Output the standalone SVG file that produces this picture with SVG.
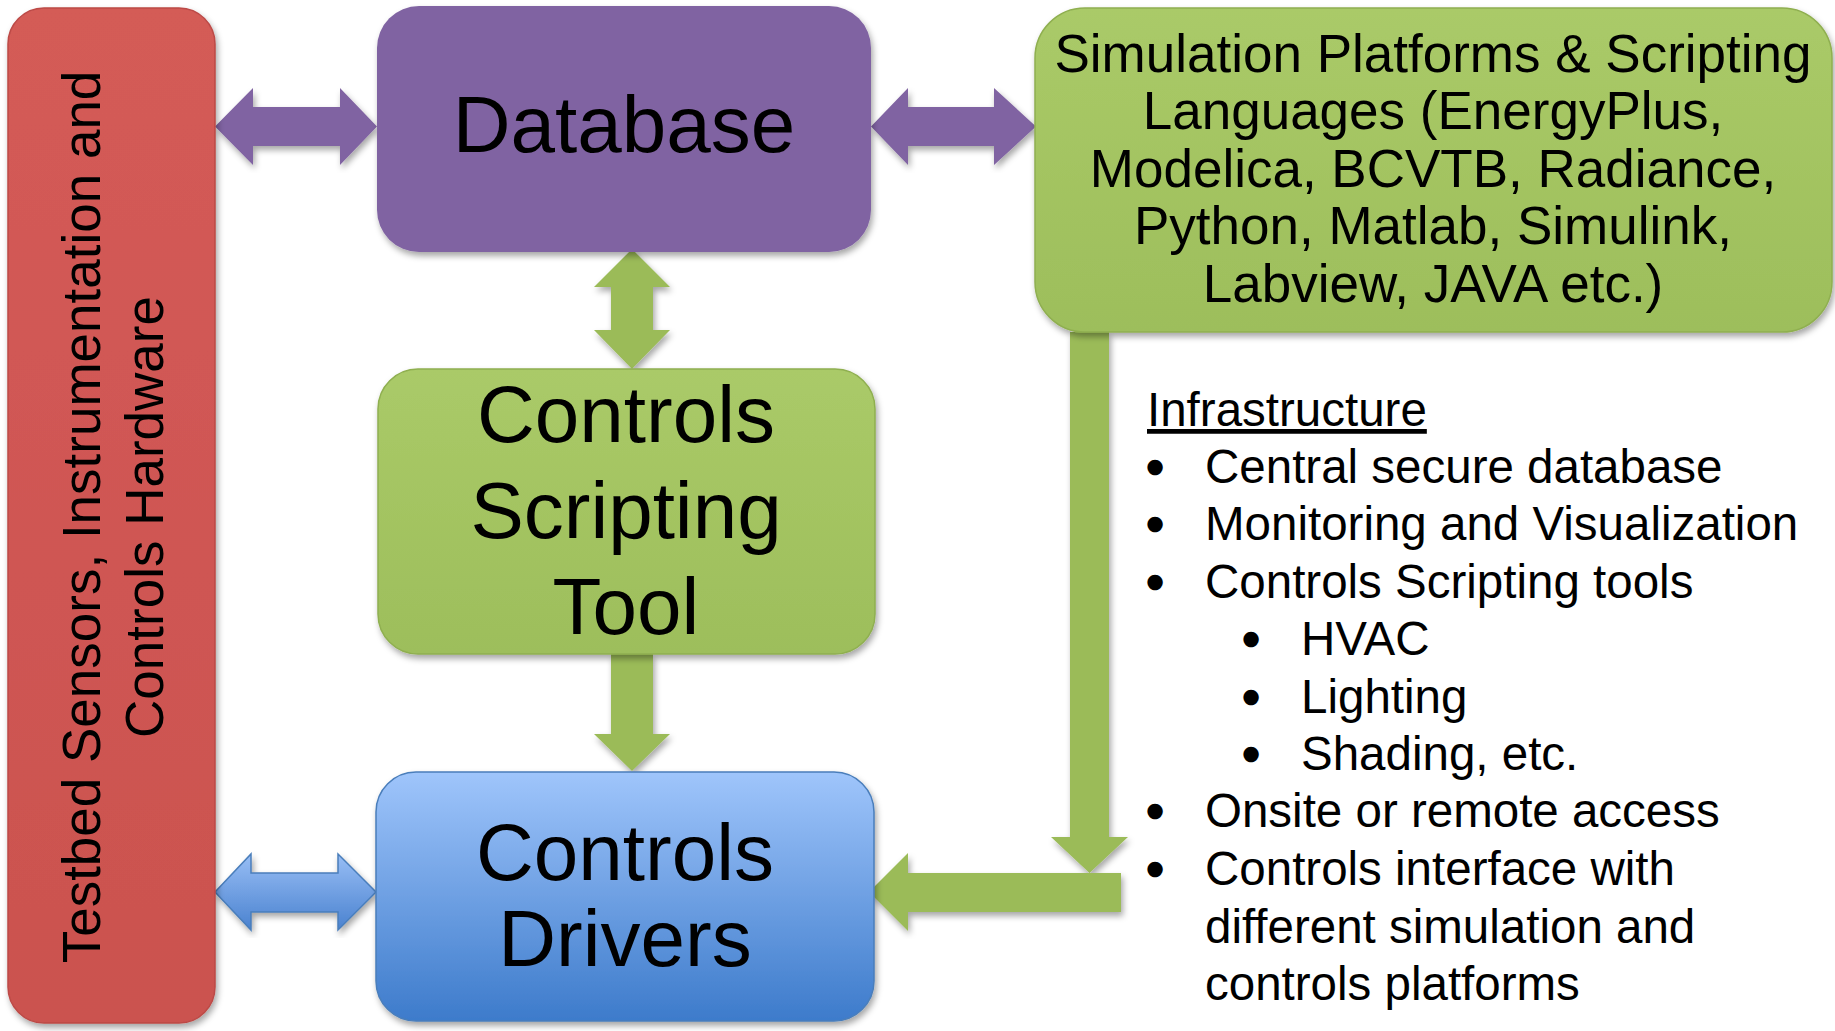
<svg xmlns="http://www.w3.org/2000/svg" width="1835" height="1031" viewBox="0 0 1835 1031">
  <defs>
    <filter id="shadow" x="-10%" y="-10%" width="120%" height="120%">
      <feDropShadow dx="2" dy="4" stdDeviation="3" flood-color="#000" flood-opacity="0.35"/>
    </filter>
    <linearGradient id="gGreen" x1="0" y1="0" x2="0" y2="1">
      <stop offset="0" stop-color="#AACA68"/>
      <stop offset="1" stop-color="#9DBE5B"/>
    </linearGradient>
    <linearGradient id="gBlue" x1="0" y1="0" x2="0" y2="1">
      <stop offset="0" stop-color="#9FC5FB"/>
      <stop offset="1" stop-color="#3D7BCB"/>
    </linearGradient>
    <linearGradient id="gBlueArrow" x1="0" y1="0" x2="0" y2="1">
      <stop offset="0" stop-color="#98BEF5"/>
      <stop offset="1" stop-color="#4A82CF"/>
    </linearGradient>
    <linearGradient id="gRed" x1="0" y1="0" x2="0" y2="1">
      <stop offset="0" stop-color="#D45B57"/>
      <stop offset="1" stop-color="#CB524F"/>
    </linearGradient>
  </defs>
  <style>
    text { font-family: "Liberation Sans", Arial, sans-serif; fill: #000; }
    .big { font-size: 80px; text-anchor: middle; }
    .mid { font-size: 53px; text-anchor: middle; }
    .list { font-size: 47.5px; }
    .bul { font-size: 47.5px; text-anchor: middle; stroke: #000; stroke-width: 2.5; }
    .box { filter: url(#shadow); }
    .arrowGreen { fill: #9BBB59; filter: url(#shadow); }
    .arrowPurple { fill: #8064A2; filter: url(#shadow); }
    .arrowBlue { fill: url(#gBlueArrow); stroke: #4A7EBB; stroke-width: 1.5; filter: url(#shadow); }
  </style>

  <rect width="1835" height="1031" fill="#FFFFFF"/>

  <!-- connectors -->
  <g id="connectors">
    <!-- sensors <-> database -->
    <path class="arrowPurple" d="M215,126.5 L253,88 L253,107 L340,107 L340,88 L377,126.5 L340,165 L340,146 L253,146 L253,165 Z"/>
    <!-- database <-> simulation platforms -->
    <path class="arrowPurple" d="M871,126.5 L908,88 L908,107 L994,107 L994,88 L1036,126.5 L994,165 L994,146 L908,146 L908,165 Z"/>
    <!-- database <-> scripting tool -->
    <path class="arrowGreen" d="M632,249 L670,287 L653,287 L653,330 L670,330 L632,369 L594,330 L611,330 L611,287 L594,287 Z"/>
    <!-- scripting tool -> drivers -->
    <path class="arrowGreen" d="M611,654 L653,654 L653,734 L670,734 L632,771 L594,734 L611,734 Z"/>
    <!-- sensors <-> drivers -->
    <path class="arrowBlue" d="M215,892 L251,854 L251,873 L338,873 L338,854 L376,892 L338,930 L338,912 L251,912 L251,930 Z"/>
    <!-- simulation platforms -> drivers (elbow) -->
    <path class="arrowGreen" d="M1070,332 L1109,332 L1109,837 L1128,837 L1089.5,873 L1051,837 L1070,837 Z"/>
    <path class="arrowGreen" d="M1121,873 L1121,912 L908,912 L908,931 L869,892 L908,853 L908,873 Z"/>
  </g>

  <!-- testbed sensors / hardware column -->
  <g id="sensors">
    <rect class="box" x="8" y="8" width="207" height="1015" rx="36" fill="url(#gRed)" stroke="#BC4A46" stroke-width="1.5"/>
    <text class="mid" transform="translate(100,517) rotate(-90)">Testbed Sensors, Instrumentation and</text>
    <text class="mid" transform="translate(163,517) rotate(-90)">Controls Hardware</text>
  </g>

  <!-- database -->
  <g id="database">
    <rect class="box" x="377" y="6" width="494" height="246" rx="42" fill="#8064A2"/>
    <text class="big" x="624" y="152">Database</text>
  </g>

  <!-- simulation platforms -->
  <g id="simulation">
    <rect class="box" x="1035" y="8" width="797" height="324" rx="50" fill="url(#gGreen)" stroke="#8FAF50" stroke-width="1.5"/>
    <text class="mid" x="1433" y="71.5">Simulation Platforms &amp; Scripting</text>
    <text class="mid" x="1433" y="129">Languages (EnergyPlus,</text>
    <text class="mid" x="1433" y="186.5">Modelica, BCVTB, Radiance,</text>
    <text class="mid" x="1433" y="244">Python, Matlab, Simulink,</text>
    <text class="mid" x="1433" y="301.5">Labview, JAVA etc.)</text>
  </g>

  <!-- controls scripting tool -->
  <g id="scripting">
    <rect class="box" x="378" y="369" width="497" height="285" rx="40" fill="url(#gGreen)" stroke="#8FAF50" stroke-width="1.5"/>
    <text class="big" x="626" y="442">Controls</text>
    <text class="big" x="626" y="538">Scripting</text>
    <text class="big" x="626" y="634">Tool</text>
  </g>

  <!-- controls drivers -->
  <g id="drivers">
    <rect class="box" x="376" y="772" width="498" height="249" rx="40" fill="url(#gBlue)" stroke="#4A7EBB" stroke-width="1.5"/>
    <text class="big" x="625" y="880">Controls</text>
    <text class="big" x="625" y="966">Drivers</text>
  </g>

  <!-- infrastructure list -->
  <g id="infrastructure">
    <text class="list" x="1147" y="426" text-decoration="underline">Infrastructure</text>
    <text class="bul" x="1155" y="483">•</text>
    <text class="list" x="1205" y="483">Central secure database</text>
    <text class="bul" x="1155" y="540">•</text>
    <text class="list" x="1205" y="540">Monitoring and Visualization</text>
    <text class="bul" x="1155" y="598">•</text>
    <text class="list" x="1205" y="598">Controls Scripting tools</text>
    <text class="bul" x="1251" y="655">•</text>
    <text class="list" x="1301" y="655">HVAC</text>
    <text class="bul" x="1251" y="713">•</text>
    <text class="list" x="1301" y="713">Lighting</text>
    <text class="bul" x="1251" y="770">•</text>
    <text class="list" x="1301" y="770">Shading, etc.</text>
    <text class="bul" x="1155" y="827">•</text>
    <text class="list" x="1205" y="827">Onsite or remote access</text>
    <text class="bul" x="1155" y="885">•</text>
    <text class="list" x="1205" y="885">Controls interface with</text>
    <text class="list" x="1205" y="943">different simulation and</text>
    <text class="list" x="1205" y="1000">controls platforms</text>
  </g>
</svg>
